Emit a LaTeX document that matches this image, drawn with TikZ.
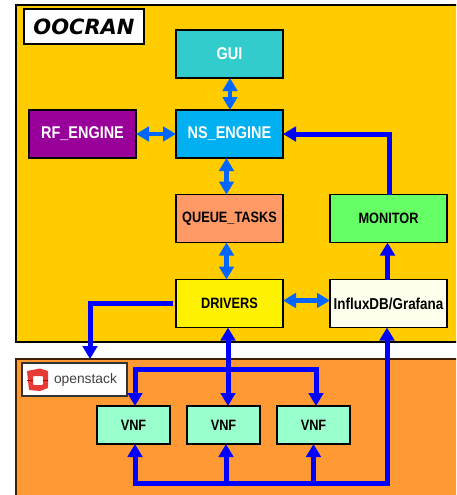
\documentclass[tikz,border=0pt]{standalone}
\usepackage{graphicx}
\usepackage{fontspec}
\setmainfont{Liberation Sans}
\newfontfamily\titlefont{DejaVu Sans}
\usetikzlibrary{arrows.meta}

\definecolor{oocranbg}{HTML}{FFCC00}
\definecolor{stackbg}{HTML}{FF9933}
\definecolor{stackline}{HTML}{402000}
\definecolor{logored}{HTML}{E83A35}
\definecolor{guifill}{HTML}{33CCCC}
\definecolor{rffill}{HTML}{990099}
\definecolor{nsfill}{HTML}{00B0F0}
\definecolor{queuefill}{HTML}{FF9966}
\definecolor{monfill}{HTML}{66FF66}
\definecolor{influxfill}{HTML}{FFFFEE}
\definecolor{vnffill}{HTML}{99FFCC}
\definecolor{ltblue}{HTML}{0066FF}

% the labels of the reference are narrow and tall
\newcommand{\lbl}[1]{\scalebox{.85}[1]{#1}}

\begin{document}
\begin{tikzpicture}[x=1pt,y=1pt,>={Triangle[width=14.5pt,length=13pt]},
                    box/.style={draw=black,line width=1.3pt,minimum width=107pt,
                                minimum height=48pt,inner sep=0pt,outer sep=0pt,
                                font=\bfseries\fontsize{15}{17}\selectfont},
                    bigbox/.style={box,font=\bfseries\fontsize{17}{19}\selectfont},
                    sidebox/.style={box,minimum width=117pt},
                    vnf/.style={box,fill=vnffill,minimum width=73pt,minimum height=38pt},
                    panel/.style={draw=black,line width=1.3pt,anchor=north west,
                                  inner sep=0pt,outer sep=0pt},
                    ltlink/.style={<->,ltblue,line width=4.5pt},
                    bus/.style={->,blue,line width=5pt}]

  \useasboundingbox (0,0) rectangle (456,-495);
  \clip (0,0) rectangle (456,-495);

  \node[panel,fill=oocranbg,minimum width=450pt,minimum height=337pt] (CRANPANEL) at (16,-5) {};
  \node[panel,fill=stackbg,draw=stackline,minimum width=450pt,minimum height=146pt] (STACKPANEL) at (16,-359) {};

  \node[panel,fill=white,minimum width=120pt,minimum height=35pt,
        font=\titlefont\bfseries\itshape\fontsize{21}{24}\selectfont] (TITLE) at (24,-9) {OOCRAN};
  \node[panel,fill=white,draw=black!80,minimum width=105pt,minimum height=33pt,
        text=black!75,font=\fontsize{13.8}{16}\selectfont] (STACKLOGO) at (22,-363)
        {\hspace{22pt}openstack};

  \node[bigbox,fill=nsfill,text=white]            (NS)      at (229.5,-134)   {\lbl{NS\_ENGINE}};
  \node[bigbox,fill=guifill,text=white]           (GUI)     [node distance=80pt,above of=NS]  {\lbl{GUI}};
  \node[bigbox,fill=rffill,text=white]            (RF)      [node distance=147pt,left of=NS]  {\lbl{RF\_ENGINE}};
  \node[box,fill=queuefill]                       (QUEUE)   [node distance=84.5pt,below of=NS] {\lbl{QUEUE\_TASKS}};
  \node[box,fill=yellow]                          (DRIVERS) [node distance=85pt,below of=QUEUE] {\lbl{DRIVERS}};
  \node[sidebox,fill=monfill]                     (MONITOR) [node distance=159pt,right of=QUEUE] {\lbl{MONITOR}};
  \node[sidebox,fill=influxfill,font=\bfseries\fontsize{15.8}{18}\selectfont]
                                                  (INFLUX)  [node distance=159pt,right of=DRIVERS] {\lbl{InfluxDB/Grafana}};

  \node[vnf]                                      (VNFB)    at (223.5,-425)   {\lbl{VNF}};
  \node[vnf]                                      (VNFA)    [node distance=90pt,left of=VNFB]  {\lbl{VNF}};
  \node[vnf]                                      (VNFC)    [node distance=90pt,right of=VNFB] {\lbl{VNF}};

  % logo of the openstack box
  \fill[logored,even odd rule,rounded corners=.8pt]
        (27,-371) -- (40,-368.5) -- (48,-371) -- (48,-388) -- (40,-391) -- (29,-390) -- cycle
        (33,-376) rectangle (43,-385);
  \draw[red!70!black,line width=.4pt] (27,-380) -- (33,-380) (43,-380) -- (48,-380);

  \coordinate (STACKIN) at (90,-359);
  \coordinate (TOPBUS)  at (228,-369);
  \coordinate (LOWBUS)  at (226,-483.5);

  \draw[ltlink] ([xshift=.5pt]GUI.south) -- ([xshift=.5pt]GUI.south |- NS.north);
  \draw[ltlink] ([xshift=-3pt]NS.south) -- ([xshift=-3pt]NS.south |- QUEUE.north);
  \draw[ltlink] ([xshift=-3pt]QUEUE.south) -- ([xshift=-3pt]QUEUE.south |- DRIVERS.north);
  \draw[ltlink] (RF.east) -- (NS.west);
  \draw[ltlink] ([yshift=3pt]DRIVERS.east) -- ([yshift=3pt]INFLUX.west);

  \draw[bus] ([xshift=1pt]MONITOR.north) |- (NS.east);
  \draw[bus] ([xshift=-1pt]INFLUX.north) -- ([xshift=-1pt]MONITOR.south);
  \draw[bus,shorten <=3pt] (DRIVERS.west) -| (STACKIN);
  \draw[bus,<->] ([xshift=-1.5pt]DRIVERS.south) -- ([xshift=4.5pt]VNFB.north);

  \draw[bus] (TOPBUS) -| ([xshift=1.5pt]VNFA.north);
  \draw[bus] (TOPBUS) -| ([xshift=2.5pt]VNFC.north);

  \draw[bus] (LOWBUS) -| ([xshift=1.5pt]VNFA.south);
  \draw[bus] (LOWBUS) -- ([xshift=2.5pt]VNFB.south);
  \draw[bus] (LOWBUS) -| (VNFC.south);
  \draw[bus] (LOWBUS) -| ([xshift=-1.5pt]INFLUX.south);
\end{tikzpicture}
\end{document}
